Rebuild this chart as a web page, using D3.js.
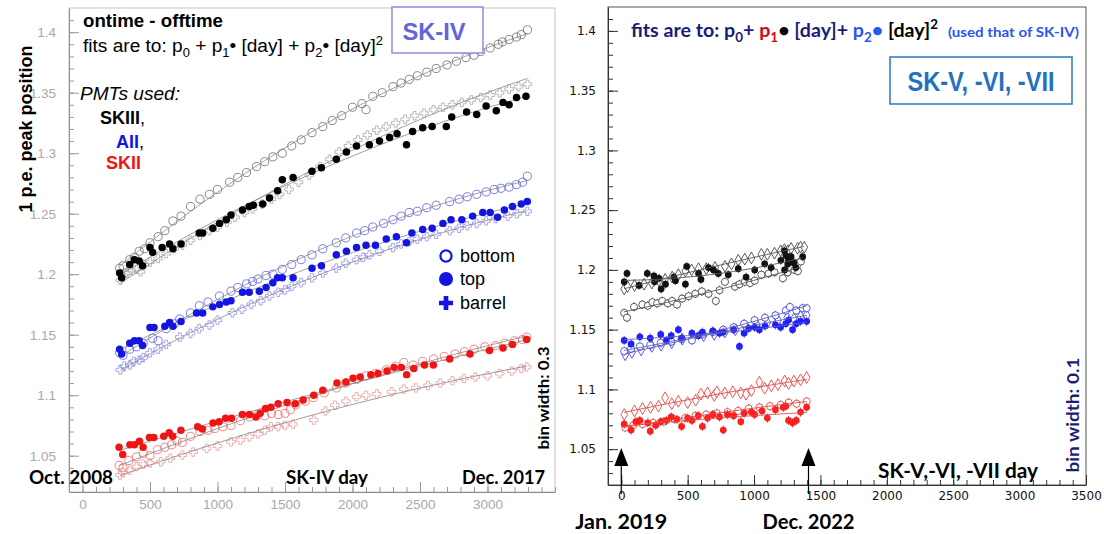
<!DOCTYPE html>
<html>
<head>
<meta charset="utf-8">
<script src="https://cdn.jsdelivr.net/npm/d3@7"></script>
<style>
  body { margin: 0; background: #fff; }
  svg text { white-space: pre; }
</style>
</head>
<body>
<svg id="chart" width="1104" height="534"></svg>
<script>
// ---- SK-IV panel: [day, 1 p.e. peak position] ----
var skivBlackBottom = [[275,1.205],[300,1.207],[350,1.212],[385,1.214],[420,1.219],[460,1.221],[500,1.226],[560,1.231],[610,1.236],[670,1.244],[730,1.248],[800,1.256],[870,1.262],[940,1.266],[1000,1.270],[1090,1.276],[1150,1.280],[1215,1.284],[1290,1.289],[1350,1.293],[1410,1.297],[1480,1.300],[1550,1.306],[1620,1.311],[1700,1.317],[1780,1.322],[1850,1.327],[1920,1.331],[2000,1.338],[2070,1.341],[2100,1.336],[2150,1.347],[2220,1.350],[2300,1.355],[2360,1.358],[2420,1.361],[2480,1.364],[2550,1.367],[2620,1.370],[2700,1.373],[2770,1.376],[2840,1.379],[2900,1.381],[2950,1.384],[3020,1.387],[3080,1.390],[3110,1.392],[3160,1.394],[3215,1.396],[3250,1.398],[3296,1.402]];
var skivBlackTop = [[275,1.201],[290,1.197],[350,1.208],[385,1.212],[420,1.211],[445,1.207],[500,1.222],[520,1.218],[590,1.222],[645,1.225],[670,1.221],[730,1.225],[865,1.234],[890,1.234],[965,1.238],[1015,1.242],[1065,1.245],[1100,1.249],[1185,1.253],[1235,1.256],[1265,1.257],[1335,1.258],[1385,1.263],[1445,1.269],[1480,1.278],[1560,1.280],[1700,1.285],[1770,1.288],[1880,1.295],[1955,1.301],[2030,1.306],[2125,1.307],[2200,1.310],[2275,1.313],[2330,1.316],[2400,1.307],[2445,1.318],[2520,1.321],[2590,1.322],[2695,1.322],[2735,1.330],[2845,1.334],[2920,1.332],[2990,1.339],[3065,1.335],[3115,1.342],[3160,1.340],[3215,1.346],[3285,1.347]];
var skivBlackBarrel = [[280,1.195],[300,1.199],[330,1.201],[360,1.203],[400,1.204],[430,1.202],[460,1.208],[500,1.210],[560,1.213],[620,1.217],[680,1.221],[740,1.224],[800,1.228],[870,1.232],[940,1.236],[1000,1.239],[1070,1.243],[1130,1.247],[1200,1.251],[1260,1.254],[1330,1.258],[1400,1.262],[1460,1.266],[1530,1.270],[1600,1.276],[1680,1.282],[1760,1.289],[1830,1.295],[1900,1.301],[1970,1.306],[2040,1.311],[2110,1.315],[2180,1.319],[2250,1.322],[2320,1.325],[2390,1.328],[2460,1.331],[2530,1.333],[2600,1.336],[2670,1.338],[2740,1.340],[2810,1.342],[2880,1.344],[2950,1.346],[3020,1.348],[3090,1.350],[3160,1.353],[3230,1.355],[3296,1.357]];
var skivBlueBottom = [[275,1.135],[300,1.133],[350,1.138],[400,1.140],[450,1.143],[520,1.147],[560,1.145],[620,1.155],[680,1.159],[720,1.163],[800,1.168],[865,1.174],[930,1.177],[1015,1.182],[1100,1.186],[1150,1.189],[1215,1.192],[1260,1.194],[1300,1.196],[1360,1.199],[1410,1.200],[1480,1.204],[1550,1.208],[1620,1.212],[1700,1.216],[1780,1.221],[1880,1.226],[1950,1.230],[2030,1.234],[2090,1.236],[2150,1.239],[2230,1.242],[2300,1.245],[2360,1.248],[2420,1.251],[2480,1.252],[2550,1.255],[2620,1.257],[2720,1.260],[2790,1.262],[2850,1.264],[2920,1.266],[2990,1.268],[3050,1.270],[3100,1.271],[3160,1.272],[3215,1.274],[3260,1.276],[3295,1.281]];
var skivBlueTop = [[275,1.138],[290,1.134],[350,1.143],[385,1.145],[420,1.145],[445,1.141],[500,1.156],[530,1.156],[610,1.157],[645,1.160],[670,1.157],[730,1.161],[845,1.168],[890,1.168],[965,1.173],[1015,1.175],[1065,1.177],[1100,1.178],[1185,1.185],[1235,1.185],[1310,1.186],[1360,1.189],[1410,1.193],[1445,1.197],[1480,1.197],[1560,1.197],[1700,1.205],[1770,1.207],[1880,1.216],[1955,1.219],[2030,1.222],[2100,1.224],[2170,1.224],[2250,1.229],[2325,1.231],[2400,1.226],[2440,1.234],[2520,1.237],[2590,1.238],[2670,1.242],[2730,1.245],[2810,1.245],[2890,1.248],[2965,1.251],[3020,1.251],[3075,1.247],[3125,1.253],[3185,1.256],[3250,1.258],[3295,1.260]];
var skivBlueBarrel = [[280,1.121],[310,1.124],[350,1.125],[380,1.128],[420,1.129],[450,1.131],[500,1.135],[560,1.138],[620,1.142],[720,1.148],[800,1.151],[865,1.155],[940,1.158],[1000,1.162],[1110,1.168],[1180,1.171],[1250,1.175],[1320,1.178],[1385,1.182],[1450,1.185],[1500,1.187],[1550,1.190],[1620,1.193],[1700,1.197],[1780,1.201],[1880,1.205],[1950,1.209],[2030,1.212],[2080,1.214],[2125,1.216],[2200,1.219],[2300,1.222],[2360,1.225],[2420,1.227],[2480,1.229],[2550,1.231],[2620,1.233],[2720,1.236],[2790,1.238],[2850,1.240],[2920,1.242],[2990,1.244],[3060,1.246],[3150,1.248],[3220,1.250],[3295,1.252]];
var skivRedBottom = [[271,1.042],[300,1.040],[343,1.046],[400,1.049],[450,1.052],[500,1.050],[555,1.055],[610,1.057],[660,1.059],[700,1.062],[740,1.061],[800,1.066],[870,1.070],[930,1.071],[980,1.0725],[1040,1.074],[1100,1.075],[1170,1.079],[1240,1.082],[1300,1.084],[1350,1.083],[1400,1.085],[1450,1.084],[1500,1.085],[1540,1.088],[1580,1.092],[1650,1.095],[1710,1.098],[1790,1.102],[1880,1.106],[1950,1.110],[2030,1.113],[2100,1.116],[2170,1.118],[2250,1.121],[2320,1.124],[2380,1.127],[2450,1.125],[2520,1.128],[2600,1.130],[2680,1.132],[2760,1.134],[2830,1.136],[2900,1.138],[2980,1.140],[3060,1.141],[3130,1.143],[3200,1.145],[3260,1.146],[3290,1.148]];
var skivRedTop = [[271,1.057],[298,1.051],[351,1.059],[385,1.059],[422,1.062],[449,1.057],[496,1.065],[528,1.065],[602,1.066],[642,1.069],[668,1.066],[729,1.071],[853,1.074],[888,1.072],[967,1.077],[1012,1.078],[1060,1.081],[1104,1.081],[1184,1.084],[1237,1.084],[1285,1.082],[1316,1.085],[1356,1.089],[1396,1.090],[1449,1.093],[1515,1.094],[1576,1.093],[1634,1.096],[1713,1.100],[1780,1.104],[1885,1.110],[1951,1.111],[2004,1.114],[2057,1.115],[2136,1.117],[2189,1.118],[2256,1.120],[2308,1.123],[2361,1.123],[2401,1.117],[2454,1.122],[2533,1.125],[2599,1.125],[2720,1.130],[2870,1.134],[3015,1.137],[3115,1.139],[3185,1.142],[3290,1.146]];
var skivRedBarrel = [[277,1.034],[300,1.036],[350,1.038],[400,1.041],[450,1.043],[500,1.044],[580,1.045],[650,1.048],[740,1.0505],[820,1.053],[920,1.056],[1000,1.058],[1100,1.0615],[1170,1.063],[1237,1.0656],[1300,1.068],[1350,1.071],[1396,1.0739],[1450,1.074],[1500,1.075],[1560,1.076],[1713,1.0794],[1800,1.087],[1870,1.0917],[1950,1.095],[2030,1.0986],[2100,1.100],[2180,1.101],[2290,1.1028],[2380,1.105],[2470,1.106],[2560,1.108],[2650,1.110],[2740,1.112],[2825,1.1138],[2910,1.115],[3000,1.116],[3090,1.1179],[3180,1.120],[3250,1.122],[3290,1.1234]];

// ---- SK-V, -VI, -VII panel ----
var skvBlackTop = [[22,1.190],[43,1.197],[134,1.187],[196,1.197],[246,1.195],[250,1.190],[284,1.193],[300,1.184],[333,1.188],[396,1.194],[408,1.191],[483,1.188],[493,1.203],[582,1.197],[600,1.192],[657,1.202],[694,1.200],[731,1.197],[806,1.196],[881,1.201],[940,1.194],[1005,1.200],[1080,1.205],[1128,1.202],[1202,1.208],[1229,1.216],[1230,1.200],[1240,1.212],[1254,1.205],[1260,1.208],[1279,1.211],[1300,1.206],[1315,1.202],[1366,1.211]];
var skvBlackBarrel = [[22,1.184],[47,1.186],[100,1.187],[172,1.188],[230,1.189],[284,1.191],[330,1.192],[383,1.194],[430,1.196],[483,1.199],[530,1.200],[582,1.201],[640,1.201],[706,1.202],[781,1.203],[830,1.205],[881,1.208],[930,1.209],[980,1.210],[1055,1.213],[1100,1.213],[1154,1.214],[1200,1.216],[1229,1.217],[1255,1.216],[1279,1.218],[1328,1.218],[1350,1.219],[1378,1.219]];
var skvBlackBottom = [[22,1.164],[43,1.160],[96,1.169],[159,1.171],[200,1.170],[234,1.173],[270,1.172],[308,1.174],[350,1.172],[383,1.174],[420,1.171],[458,1.176],[507,1.178],[557,1.180],[607,1.182],[657,1.180],[712,1.174],[740,1.183],[781,1.190],[856,1.186],[890,1.188],[930,1.190],[970,1.189],[1005,1.191],[1055,1.196],[1110,1.197],[1154,1.198],[1217,1.193],[1254,1.198],[1280,1.201],[1304,1.200],[1330,1.199],[1353,1.207]];
var skvBlueTop = [[22,1.141],[74,1.138],[140,1.144],[218,1.143],[297,1.146],[340,1.141],[376,1.145],[430,1.150],[454,1.143],[532,1.147],[580,1.145],[611,1.148],[690,1.149],[740,1.147],[768,1.148],[846,1.150],[890,1.136],[925,1.147],[960,1.151],[1004,1.152],[1040,1.150],[1082,1.153],[1161,1.154],[1200,1.152],[1239,1.155],[1260,1.158],[1290,1.150],[1318,1.155],[1350,1.157],[1396,1.157]];
var skvBlueBottom = [[22,1.132],[74,1.134],[140,1.136],[218,1.137],[297,1.139],[376,1.140],[454,1.142],[532,1.141],[611,1.146],[690,1.148],[768,1.150],[846,1.152],[925,1.155],[1004,1.158],[1082,1.160],[1161,1.162],[1239,1.166],[1270,1.169],[1318,1.166],[1366,1.168],[1396,1.168]];
var skvBlueBarrel = [[30,1.129],[80,1.131],[150,1.133],[230,1.136],[300,1.137],[380,1.139],[460,1.142],[540,1.143],[620,1.145],[700,1.146],[780,1.148],[860,1.150],[940,1.152],[1020,1.154],[1100,1.156],[1180,1.158],[1250,1.160],[1300,1.159],[1350,1.161],[1396,1.162]];
var skvRedBarrel = [[22,1.079],[100,1.082],[160,1.084],[220,1.085],[280,1.086],[330,1.093],[380,1.088],[430,1.090],[500,1.089],[560,1.091],[600,1.096],[650,1.097],[700,1.095],[720,1.098],[780,1.097],[840,1.098],[900,1.097],[940,1.096],[980,1.099],[1040,1.106],[1080,1.101],[1130,1.103],[1180,1.104],[1230,1.107],[1260,1.105],[1300,1.107],[1350,1.108],[1396,1.110]];
var skvRedBottom = [[30,1.068],[90,1.070],[160,1.071],[240,1.072],[320,1.073],[400,1.075],[480,1.076],[560,1.078],[640,1.079],[720,1.080],[800,1.081],[880,1.082],[960,1.084],[1040,1.085],[1120,1.086],[1200,1.087],[1260,1.089],[1320,1.088],[1396,1.090]];
var skvRedTop = [[22,1.071],[74,1.066],[110,1.073],[140,1.074],[200,1.072],[218,1.065],[260,1.070],[297,1.073],[340,1.074],[376,1.077],[420,1.075],[454,1.069],[500,1.076],[532,1.074],[580,1.078],[611,1.069],[650,1.076],[690,1.079],[740,1.077],[768,1.066],[800,1.079],[846,1.078],[900,1.073],[925,1.080],[980,1.081],[1004,1.079],[1060,1.082],[1100,1.076],[1161,1.083],[1220,1.085],[1239,1.086],[1260,1.074],[1290,1.072],[1318,1.074],[1350,1.081],[1396,1.085]];

// ---- ticks and labels ----
var yTickValues = [1.05, 1.1, 1.15, 1.2, 1.25, 1.3, 1.35, 1.4];
var leftXTickValues = [0, 500, 1000, 1500, 2000, 2500, 3000];
var rightXTickValues = [0, 500, 1000, 1500, 2000, 2500, 3000, 3500];
var arrowDays = [0, 1410];
var arrowLabels = ["Jan. 2019", "Dec. 2022"];
var legendLabels = ["bottom", "top", "barrel"];

var svg = d3.select("#chart");
var ARIAL = "'Liberation Sans', Arial, sans-serif";
var CALIBRI = "Lato, 'Liberation Sans', sans-serif";

var xL = d3.scaleLinear().domain([-100, 3500]).range([69, 555]);
var yL = d3.scaleLinear().domain([1.02, 1.42]).range([492, 8]);
var xR = d3.scaleLinear().domain([-100, 3500]).range([608, 1086]);
var yR = d3.scaleLinear().domain([1.02, 1.42]).range([485, 7]);

// quadratic least squares, x in thousands of days
function quadFit(pts) {
    var S = [0, 0, 0, 0, 0], T = [0, 0, 0];
    pts.forEach(function (p) {
        var x = p[0] / 1000, w = 1;
        for (var k = 0; k < 5; k++) {
            S[k] += w;
            if (k < 3) T[k] += p[1] * w;
            w *= x;
        }
    });
    var A = [[S[0], S[1], S[2], T[0]], [S[1], S[2], S[3], T[1]], [S[2], S[3], S[4], T[2]]];
    for (var i = 0; i < 3; i++) {
        for (var j = i + 1; j < 3; j++) {
            var f = A[j][i] / A[i][i];
            for (var k = i; k < 4; k++) A[j][k] -= f * A[i][k];
        }
    }
    var c = [0, 0, 0];
    for (var i = 2; i >= 0; i--) {
        var s = A[i][3];
        for (var k = i + 1; k < 3; k++) s -= A[i][k] * c[k];
        c[i] = s / A[i][i];
    }
    return function (d) { var x = d / 1000; return c[0] + c[1] * x + c[2] * x * x; };
}

function drawPanel(x, y, cfg) {
    var g = svg.append("g");
    var x0 = x.range()[0], x1 = x.range()[1], y0 = y.range()[1], y1 = y.range()[0];
    g.append("rect").attr("x", x0).attr("y", y0).attr("width", x1 - x0).attr("height", y1 - y0)
        .attr("fill", "none").attr("stroke", cfg.frame).attr("stroke-width", 1);

    var minorY = g.append("g").attr("transform", "translate(" + x0 + ",0)")
        .call(d3.axisLeft(y).tickValues(d3.range(1.03, 1.415, 0.01)).tickSize(-5).tickSizeOuter(0).tickFormat(""));
    minorY.select(".domain").remove();
    minorY.selectAll("line").attr("stroke", cfg.tick);

    var ya = g.append("g").attr("transform", "translate(" + x0 + ",0)")
        .call(d3.axisLeft(y).tickValues(yTickValues).tickSize(-10).tickSizeOuter(0).tickPadding(cfg.ypad)
            .tickFormat(function (d) { return String(+d.toFixed(2)); }));
    ya.attr("font-family", cfg.font).attr("font-size", cfg.fs);
    ya.select(".domain").attr("stroke", cfg.axis);
    ya.selectAll("line").attr("stroke", cfg.tick);
    ya.selectAll("text").attr("fill", cfg.label);

    var minorX = g.append("g").attr("transform", "translate(0," + y1 + ")")
        .call(d3.axisBottom(x).tickValues(d3.range(-100, 3501, 100)).tickSize(-5).tickSizeOuter(0).tickFormat(""));
    minorX.select(".domain").remove();
    minorX.selectAll("line").attr("stroke", cfg.tick);

    var xa = g.append("g").attr("transform", "translate(0," + y1 + ")")
        .call(d3.axisBottom(x).tickValues(cfg.xTicks).tickSize(-10).tickSizeOuter(0).tickPadding(cfg.xpad)
            .tickFormat(d3.format("d")));
    xa.attr("font-family", cfg.font).attr("font-size", cfg.fs);
    xa.select(".domain").attr("stroke", cfg.axis);
    xa.selectAll("line").attr("stroke", cfg.tick);
    xa.selectAll("text").attr("fill", cfg.label);
    return g;
}

function drawMarkers(g, x, y, s, errBar) {
    var m = g.append("g");
    if (errBar) {
        m.selectAll("line").data(s.data).enter().append("line")
            .attr("x1", function (d) { return x(d[0]); }).attr("x2", function (d) { return x(d[0]); })
            .attr("y1", function (d) { return y(d[1]) - 4.5; }).attr("y2", function (d) { return y(d[1]) + 4.5; })
            .attr("stroke", "#222").attr("stroke-width", 0.7);
    }
    var sym = { cross: d3.symbolCross, diamond: d3.symbolDiamond, circle: d3.symbolCircle }[s.shape];
    m.selectAll("path").data(s.data).enter().append("path")
        .attr("transform", function (d) { return "translate(" + x(d[0]) + "," + y(d[1]) + ")"; })
        .attr("d", d3.symbol().type(sym).size(s.size))
        .attr("fill", s.fill)
        .attr("stroke", s.stroke)
        .attr("stroke-width", s.sw);
}

function drawFit(g, x, y, s, color, width) {
    var f = quadFit(s.data);
    var lo = d3.min(s.data, function (d) { return d[0]; }), hi = d3.max(s.data, function (d) { return d[0]; });
    var days = d3.range(lo, hi, 25).concat([hi]);
    g.append("path").datum(days)
        .attr("d", d3.line().x(function (d) { return x(d); }).y(function (d) { return y(f(d)); }))
        .attr("fill", "none").attr("stroke", color).attr("stroke-width", width);
}

// ================= left panel (SK-IV) =================
var gL = drawPanel(xL, yL, { frame: "#c4c4c4", axis: "#8c8c8c", tick: "#9a9a9a", label: "#a8a8a8",
    font: ARIAL, fs: 13.5, ypad: 13, xpad: 7, xTicks: leftXTickValues });

var leftSeries = [
    { data: skivBlackBottom, shape: "circle", size: 52, fill: "none", stroke: "#6a6a6a", sw: 0.8 },
    { data: skivBlackBarrel, shape: "cross", size: 40, fill: "none", stroke: "#9c9c9c", sw: 0.7 },
    { data: skivBlueBottom, shape: "circle", size: 52, fill: "none", stroke: "#5a5ae6", sw: 0.8 },
    { data: skivBlueBarrel, shape: "cross", size: 40, fill: "none", stroke: "#8484ea", sw: 0.7 },
    { data: skivRedBottom, shape: "circle", size: 52, fill: "none", stroke: "#f06464", sw: 0.8 },
    { data: skivRedBarrel, shape: "cross", size: 40, fill: "none", stroke: "#e89090", sw: 0.7 },
    { data: skivBlackTop, shape: "circle", size: 44, fill: "#000", stroke: "none", sw: 0 },
    { data: skivBlueTop, shape: "circle", size: 44, fill: "#1414e0", stroke: "none", sw: 0 },
    { data: skivRedTop, shape: "circle", size: 44, fill: "#f01414", stroke: "none", sw: 0 }
];
leftSeries.slice(0, 6).forEach(function (s) { drawMarkers(gL, xL, yL, s, false); });
leftSeries.forEach(function (s) { drawFit(gL, xL, yL, s, "#858585", 0.8); });
leftSeries.slice(6).forEach(function (s) { drawMarkers(gL, xL, yL, s, false); });

// ================= right panel (SK-V, -VI, -VII) =================
var gR = drawPanel(xR, yR, { frame: "#555", axis: "#333", tick: "#333", label: "#111",
    font: "'DejaVu Sans', Verdana, sans-serif", fs: 12, ypad: 12, xpad: 6, xTicks: rightXTickValues });

var rightSeries = [
    { data: skvBlackBarrel, shape: "diamond", size: 40, fill: "#fff", stroke: "#333", sw: 0.8, fit: "#555" },
    { data: skvBlackBottom, shape: "circle", size: 40, fill: "#fff", stroke: "#333", sw: 0.8, fit: "#555" },
    { data: skvBlackTop, shape: "circle", size: 36, fill: "#111", stroke: "none", sw: 0, fit: "#555" },
    { data: skvBlueBarrel, shape: "diamond", size: 40, fill: "#fff", stroke: "#3333ee", sw: 0.8, fit: "#6060a8" },
    { data: skvBlueBottom, shape: "circle", size: 40, fill: "#fff", stroke: "#3333ee", sw: 0.8, fit: "#6060a8" },
    { data: skvBlueTop, shape: "circle", size: 36, fill: "#1f1fff", stroke: "none", sw: 0, fit: "#6060a8" },
    { data: skvRedBarrel, shape: "diamond", size: 40, fill: "#fff", stroke: "#e83030", sw: 0.8, fit: "#e04848" },
    { data: skvRedBottom, shape: "circle", size: 40, fill: "#fff", stroke: "#e83030", sw: 0.8, fit: "#e04848" },
    { data: skvRedTop, shape: "circle", size: 36, fill: "#ff1e1e", stroke: "none", sw: 0, fit: "#e04848" }
];
rightSeries.forEach(function (s) { drawMarkers(gR, xR, yR, s, true); });
rightSeries.forEach(function (s) { drawFit(gR, xR, yR, s, s.fit, 0.9); });

// arrows marking the period
arrowDays.forEach(function (d, i) {
    var ax = xR(d);
    gR.append("line").attr("x1", ax).attr("x2", ax).attr("y1", 494).attr("y2", 462)
        .attr("stroke", "#000").attr("stroke-width", 1.2);
    gR.append("path").attr("d", "M" + (ax - 7) + ",466 L" + ax + ",448 L" + (ax + 7) + ",466 Z").attr("fill", "#000");
    gR.append("text").attr("x", ax).attr("y", 529).attr("text-anchor", "middle")
        .attr("font-family", CALIBRI).attr("font-weight", "bold").attr("font-size", 20)
        .attr("textLength", 92).attr("lengthAdjust", "spacingAndGlyphs").text(arrowLabels[i]);
});

// ================= text =================
function rich(g, x, y, size, parts, attrs) {
    var t = g.append("text").attr("x", x).attr("y", y).attr("font-size", size);
    Object.keys(attrs || {}).forEach(function (k) { t.attr(k, attrs[k]); });
    var shift = 0;
    parts.forEach(function (p) {
        var want = p.sub ? size * 0.28 : (p.sup ? -size * 0.42 : 0);
        var s = t.append("tspan").attr("dy", want - shift).text(p.t);
        shift = want;
        if (p.sub || p.sup) s.attr("font-size", size * 0.68);
        if (p.fill) s.attr("fill", p.fill);
    });
    return t;
}
function label(g, x, y, str, a) {
    var t = g.append("text").attr("x", x).attr("y", y).text(str);
    Object.keys(a).forEach(function (k) { t.attr(k, a[k]); });
    return t;
}

label(svg, 83, 27, "ontime - offtime", { "font-family": ARIAL, "font-weight": "bold", "font-size": 17.5, textLength: 140, lengthAdjust: "spacingAndGlyphs" });
rich(svg, 83, 52, 17.5, [{ t: "fits are to: p" }, { t: "0", sub: true }, { t: " + p" }, { t: "1", sub: true },
    { t: "\u2022 [day] + p" }, { t: "2", sub: true }, { t: "\u2022 [day]" }, { t: "2", sup: true }],
    { "font-family": ARIAL, textLength: 300, lengthAdjust: "spacingAndGlyphs" });

svg.append("rect").attr("x", 392).attr("y", 7).attr("width", 91).attr("height", 46)
    .attr("fill", "#fff").attr("stroke", "#8c8ce6").attr("stroke-width", 1.5);
label(svg, 434, 40, "SK-IV", { "font-family": ARIAL, "font-weight": "bold", "font-size": 24, fill: "#6363dc", "text-anchor": "middle", textLength: 63, lengthAdjust: "spacingAndGlyphs" });

label(svg, 80, 100, "PMTs used:", { "font-family": ARIAL, "font-style": "italic", "font-size": 18, textLength: 100, lengthAdjust: "spacingAndGlyphs" });
rich(svg, 100, 124, 18, [{ t: "SKIII" }, { t: ",", fill: "#000" }], { "font-family": ARIAL, "font-weight": "bold" }).select("tspan:last-child").attr("font-weight", "normal");
rich(svg, 116, 148, 18, [{ t: "AII", fill: "#1414e0" }, { t: "," }], { "font-family": ARIAL, "font-weight": "bold" }).select("tspan:last-child").attr("font-weight", "normal");
label(svg, 106, 169, "SKII", { "font-family": ARIAL, "font-weight": "bold", "font-size": 18, fill: "#f01414" });

label(svg, 32, 129, "1 p.e. peak position", { "font-family": ARIAL, "font-weight": "bold", "font-size": 18, "text-anchor": "middle", transform: "rotate(-90,32,129)" });

// legend
var legY = [256, 279, 303];
var legG = svg.append("g");
legendLabels.forEach(function (t, i) {
    label(legG, 460, legY[i] + 6, t, { "font-family": ARIAL, "font-size": 18 });
});
legG.append("circle").attr("cx", 446).attr("cy", legY[0]).attr("r", 5.6).attr("fill", "none").attr("stroke", "#1414e0").attr("stroke-width", 2.2);
legG.append("circle").attr("cx", 446).attr("cy", legY[1]).attr("r", 7).attr("fill", "#1414e0");
legG.append("path").attr("transform", "translate(446," + legY[2] + ")").attr("d", d3.symbol().type(d3.symbolCross).size(110)).attr("fill", "#1414e0");

label(svg, 549, 398, "bin width: 0.3", { "font-family": CALIBRI, "font-weight": "bold", "font-size": 16, "text-anchor": "middle", transform: "rotate(-90,549,398)", textLength: 103, lengthAdjust: "spacingAndGlyphs" });

var bottomStyle = { "font-family": CALIBRI, "font-weight": "bold", "font-size": 19 };
label(svg, 113, 484, "Oct. 2008", Object.assign({ "text-anchor": "end", textLength: 84, lengthAdjust: "spacingAndGlyphs" }, bottomStyle));
label(svg, 327, 484, "SK-IV day", Object.assign({ "text-anchor": "middle", textLength: 82, lengthAdjust: "spacingAndGlyphs" }, bottomStyle));
label(svg, 545, 484, "Dec. 2017", Object.assign({ "text-anchor": "end", textLength: 83, lengthAdjust: "spacingAndGlyphs" }, bottomStyle));

// right panel text
var navy = "#1c1c78", red = "#cc0a0a", blue = "#2a55f0";
rich(svg, 631, 37, 18, [{ t: "fits are to: p", fill: navy }, { t: "0", sub: true, fill: navy }, { t: "+ ", fill: navy },
    { t: "p", fill: red }, { t: "1", sub: true, fill: red }, { t: "\u2022", fill: "#000" }, { t: " [day]+ ", fill: navy },
    { t: "p", fill: blue }, { t: "2", sub: true, fill: blue }, { t: "\u2022 ", fill: blue }, { t: "[day]", fill: "#000" }, { t: "2", sup: true, fill: "#000" }],
    { "font-family": CALIBRI, "font-weight": "bold", textLength: 307, lengthAdjust: "spacingAndGlyphs" });
label(svg, 948, 37, "(used that of SK-IV)", { "font-family": CALIBRI, "font-weight": "bold", "font-size": 13, fill: blue, textLength: 131, lengthAdjust: "spacingAndGlyphs" });

svg.append("rect").attr("x", 890).attr("y", 57).attr("width", 182).attr("height", 47)
    .attr("fill", "#fff").attr("stroke", "#3a80c4").attr("stroke-width", 1.6);
label(svg, 981, 91, "SK-V, -VI, -VII", { "font-family": ARIAL, "font-weight": "bold", "font-size": 27, fill: "#1f72c0", "text-anchor": "middle", textLength: 147, lengthAdjust: "spacingAndGlyphs" });

label(svg, 958, 478, "SK-V,-VI, -VII day", { "font-family": CALIBRI, "font-weight": "bold", "font-size": 21, "text-anchor": "middle", textLength: 160, lengthAdjust: "spacingAndGlyphs" });
label(svg, 1079, 415, "bin width: 0.1", { "font-family": CALIBRI, "font-weight": "bold", "font-size": 17, fill: "#1c1c78", "text-anchor": "middle", transform: "rotate(-90,1079,415)", textLength: 115, lengthAdjust: "spacingAndGlyphs" });
</script>
</body>
</html>
